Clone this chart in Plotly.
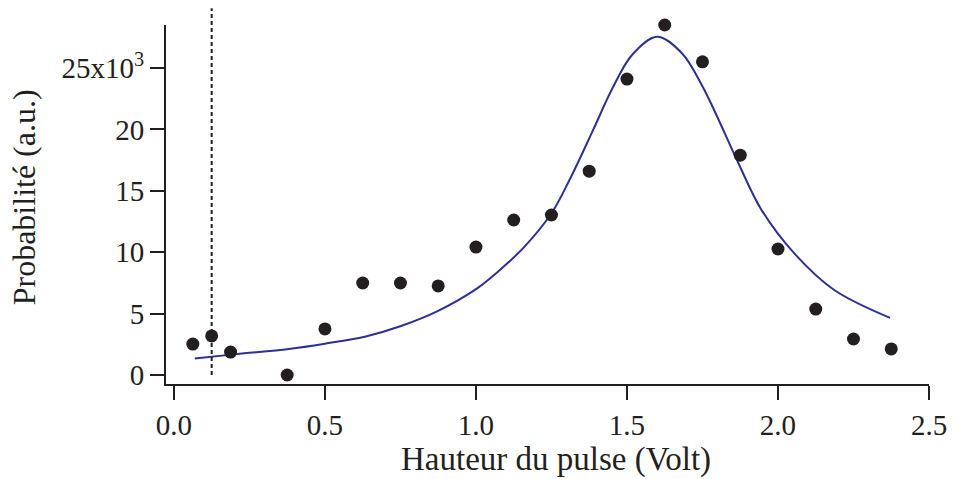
import plotly.graph_objects as go

# Measured probability vs. pulse height
pulse_volts = [0.0625, 0.125, 0.1875, 0.375, 0.5, 0.625, 0.75, 0.875, 1.0, 1.125,
               1.25, 1.375, 1.5, 1.625, 1.75, 1.875, 2.0, 2.125, 2.25, 2.375]
probability = [2520, 3180, 1870, 0, 3750, 7490, 7490, 7250, 10420, 12620,
               13030, 16600, 24100, 28500, 25500, 17900, 10260, 5370, 2930, 2120]

# Fitted resonance curve, sampled along its length
fit_volts = [0.069, 0.206, 0.38, 0.5, 0.632, 0.752, 0.873, 1.004, 1.07, 1.157,
             1.25, 1.31, 1.387, 1.452, 1.518, 1.60, 1.682, 1.748, 1.79, 1.868,
             1.944, 2.054, 2.185, 2.371]
fit_prob = [1340, 1700, 2120, 2550, 3120, 3990, 5200, 7050, 8350, 10350,
            13170, 15900, 19900, 23350, 26100, 27550, 26200, 23600, 21500, 17300,
            13500, 9900, 6940, 4650]

# Threshold marker position
threshold_volt = 0.125

x_tickvals = [0.0, 0.5, 1.0, 1.5, 2.0, 2.5]
x_ticktext = ["0.0", "0.5", "1.0", "1.5", "2.0", "2.5"]
y_tickvals = [0, 5000, 10000, 15000, 20000, 25000]
y_ticktext = ["0", "5", "10", "15", "20", "25x10<sup>3</sup>"]

FONT = "Liberation Serif, Times New Roman, serif"
INK = "#231f20"

fig = go.Figure()
fig.add_trace(go.Scatter(
    x=fit_volts, y=fit_prob, mode="lines",
    line=dict(color="#2e3192", width=2, shape="spline", smoothing=1.0),
    hoverinfo="skip", showlegend=False,
))
fig.add_trace(go.Scatter(
    x=pulse_volts, y=probability, mode="markers",
    marker=dict(color=INK, size=13, line=dict(width=0)),
    showlegend=False, cliponaxis=False,
))

fig.add_shape(
    type="line", xref="x", yref="paper",
    x0=threshold_volt, x1=threshold_volt, y0=0.025, y1=1.047,
    line=dict(color=INK, width=2, dash="4px,3px"),
)

fig.update_xaxes(
    range=[-0.02625, 2.5], tickvals=x_tickvals, ticktext=x_ticktext,
    showline=True, linecolor=INK, linewidth=2,
    ticks="outside", ticklen=14, tickwidth=2, tickcolor=INK,
    showgrid=False, zeroline=False,
    tickfont=dict(family=FONT, size=29, color=INK),
)
fig.update_yaxes(
    range=[-733, 28500], tickvals=y_tickvals, ticktext=y_ticktext,
    showline=True, linecolor=INK, linewidth=2,
    ticks="outside", ticklen=14, tickwidth=2, tickcolor=INK,
    showgrid=False, zeroline=False,
    tickfont=dict(family=FONT, size=29, color=INK),
)

fig.add_annotation(
    text="Hauteur du pulse (Volt)", xref="paper", yref="paper",
    x=(560 - 166) / 770, y=-(459 - 384) / 359, xanchor="center", yanchor="middle",
    showarrow=False, font=dict(family=FONT, size=33, color=INK),
)
fig.add_annotation(
    text="Probabilité (a.u.)", xref="paper", yref="paper",
    x=-(166 - 23) / 770, y=(384 - 197) / 359, xanchor="center", yanchor="middle",
    textangle=-90, showarrow=False, font=dict(family=FONT, size=32, color=INK),
)

fig.update_layout(
    width=959, height=479,
    margin=dict(l=166, r=23, t=25, b=95),
    paper_bgcolor="white", plot_bgcolor="white",
    showlegend=False,
)

fig.write_html("out.html")
